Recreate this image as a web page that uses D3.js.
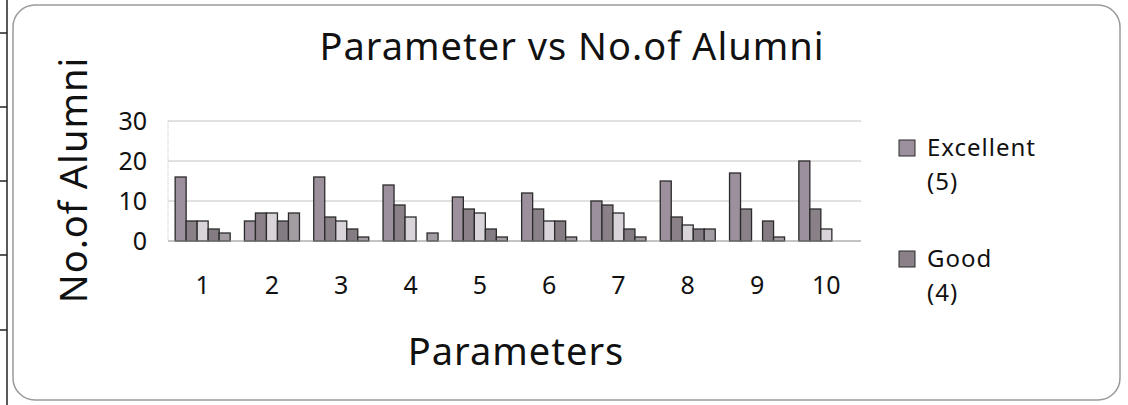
<!DOCTYPE html>
<html lang="en">
    <head>
        <meta charset="utf-8">
        <title>Parameter vs No.of Alumni</title>
        <script type="text/javascript" src="https://cdn.jsdelivr.net/npm/d3@7"></script>
        <style type="text/css">
            body { margin: 0; background: #fff; }
            text { font-family: "Segoe Print", "Comic Sans MS", "Noto Sans", sans-serif; fill: #111; }
        </style>
    </head>
    <body>
<svg width="1128" height="405" id="main"></svg>

<script>

// values
var parameters = ["1", "2", "3", "4", "5", "6", "7", "8", "9", "10"];
var seriesNames = ["Excellent (5)", "Good (4)", "Average (3)", "Poor (2)", "Very Poor (1)"];
var excellent = [16, 5, 16, 14, 11, 12, 10, 15, 17, 20];
var good      = [5, 7, 6, 9, 8, 8, 9, 6, 8, 8];
var average   = [5, 7, 5, 6, 7, 5, 7, 4, 0, 3];
var poor      = [3, 5, 3, 0, 3, 5, 3, 3, 5, 0];
var veryPoor  = [2, 7, 1, 2, 1, 1, 1, 3, 1, 0];
var yTicks = [0, 10, 20, 30];
var legendShown = [0, 1];   // only two legend entries fit in the picture

var seriesValues = [excellent, good, average, poor, veryPoor];
var colors = ["#9b909c", "#8a8088", "#d8d4d9", "#847b83", "#a39ca2"];

var svg = d3.select("svg#main");

// outer frame + scanned table edge on the left
svg.append("rect")
    .attr("x", 13).attr("y", 5)
    .attr("width", 1107).attr("height", 395)
    .attr("rx", 22).attr("ry", 22)
    .style("fill", "#fff").style("stroke", "#9a9a9a").style("stroke-width", 1.5);
svg.append("line")
    .attr("x1", 7).attr("x2", 7).attr("y1", 0).attr("y2", 405)
    .style("stroke", "#222").style("stroke-width", 1.5);
[33, 107, 181, 255, 330].forEach(function(yy) {
  svg.append("line")
      .attr("x1", 0).attr("x2", 7).attr("y1", yy).attr("y2", yy)
      .style("stroke", "#222").style("stroke-width", 1.5);
});

var plotLeft = 168, plotRight = 861, plotTop = 121, plotBottom = 241;

var x0 = d3.scaleBand()
    .domain(parameters)
    .range([plotLeft, plotRight])
    .paddingInner(0.206)
    .paddingOuter(0.103);

var x1 = d3.scaleBand()
    .domain(d3.range(seriesNames.length))
    .range([0, x0.bandwidth()]);

var y = d3.scaleLinear()
    .domain([0, 30])
    .range([plotBottom, plotTop]);

// gridlines
svg.append("g").selectAll("line")
  .data(yTicks.filter(function(d) { return d > 0; }))
  .enter().append("line")
    .attr("x1", plotLeft).attr("x2", plotRight)
    .attr("y1", function(d) { return y(d); })
    .attr("y2", function(d) { return y(d); })
    .style("stroke", "#c4c4c4").style("stroke-width", 1);

svg.append("line")
    .attr("x1", plotLeft).attr("x2", plotLeft).attr("y1", plotTop).attr("y2", plotBottom)
    .style("stroke", "#c4c4c4").style("stroke-dasharray", "1,1");

// bars
var rows = [];
parameters.forEach(function(p, i) {
  seriesValues.forEach(function(vals, s) {
    if (vals[i] > 0) rows.push({ p: p, s: s, v: vals[i] });
  });
});

svg.append("g").selectAll("rect")
  .data(rows)
  .enter().append("rect")
    .attr("x", function(d) { return x0(d.p) + x1(d.s); })
    .attr("y", function(d) { return y(d.v); })
    .attr("width", x1.bandwidth())
    .attr("height", function(d) { return y(0) - y(d.v); })
    .style("fill", function(d) { return colors[d.s]; })
    .style("stroke", "#2b2b2b")
    .style("stroke-width", 1.3);

svg.append("line")
    .attr("x1", plotLeft).attr("x2", plotRight).attr("y1", y(0)).attr("y2", y(0))
    .style("stroke", "#8a8a8a").style("stroke-width", 1.2);

// axes labels
svg.append("g").selectAll("text")
  .data(yTicks)
  .enter().append("text")
    .attr("x", 147)
    .attr("y", function(d) { return y(d); })
    .attr("dy", "0.35em")
    .attr("text-anchor", "end")
    .style("font-size", "25px")
    .text(function(d) { return d; });

svg.append("g").selectAll("text")
  .data(parameters)
  .enter().append("text")
    .attr("x", function(d) { return x0(d) + x0.bandwidth() / 2; })
    .attr("y", 285)
    .attr("dy", "0.35em")
    .attr("text-anchor", "middle")
    .style("font-size", "25px")
    .text(function(d) { return d; });

svg.append("text")
    .attr("x", 572).attr("y", 47)
    .attr("dy", "0.35em")
    .attr("text-anchor", "middle")
    .style("font-size", "38px")
    .style("letter-spacing", "1px")
    .text("Parameter vs No.of Alumni");

svg.append("text")
    .attr("x", 516).attr("y", 352)
    .attr("dy", "0.35em")
    .attr("text-anchor", "middle")
    .style("font-size", "38px")
    .style("letter-spacing", "1px")
    .text("Parameters");

svg.append("text")
    .attr("transform", "translate(74,180) rotate(-90)")
    .attr("dy", "0.35em")
    .attr("text-anchor", "middle")
    .style("font-size", "38px")
    .style("letter-spacing", "1px")
    .text("No.of Alumni");

// legend
var legend = svg.append("g").selectAll("g")
  .data(legendShown)
  .enter().append("g")
    .attr("transform", function(d, i) { return "translate(899," + (148 + i * 111) + ")"; });

legend.append("rect")
    .attr("x", 0).attr("y", -8)
    .attr("width", 16).attr("height", 16)
    .style("fill", function(d) { return colors[d]; })
    .style("stroke", "#2b2b2b");

legend.append("text")
    .attr("x", 28).attr("y", 0)
    .attr("dy", "0.35em")
    .style("font-size", "24px")
    .style("letter-spacing", "1px")
    .text(function(d) { return seriesNames[d].split(" (")[0]; });

legend.append("text")
    .attr("x", 28).attr("y", 34)
    .attr("dy", "0.35em")
    .style("font-size", "24px")
    .style("letter-spacing", "1px")
    .text(function(d) { return "(" + seriesNames[d].split(" (")[1]; });

</script>
    </body>
</html>
